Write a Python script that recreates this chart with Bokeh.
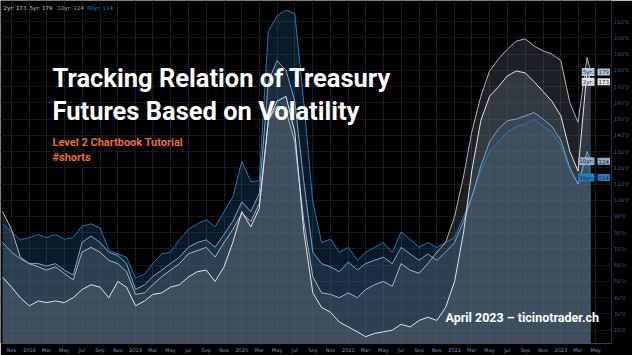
import pandas as pd
from bokeh.plotting import figure
from bokeh.models import Range1d, FixedTicker, Label, ColumnDataSource
from bokeh.embed import file_html
from bokeh.resources import INLINE

# ---------------- data ----------------
dates = list(pd.date_range("2017-10-01", periods=67, freq="MS")) + [pd.Timestamp("2023-04-14")]

y2 = [52.7, 46.5, 40, 35, 38, 37, 38, 37, 40, 45,
      48, 46.5, 40, 50, 46.5, 35, 38, 42, 43, 46.5,
      48, 52.7, 56, 57, 50, 59, 74, 93, 83.6, 95,
      149, 161, 164, 142, 80.5, 43, 34, 31, 25, 22,
      19, 16, 18, 19, 20, 23.6, 22, 26, 28, 26,
      34, 50, 80.5, 118, 149, 164, 170, 176.5, 179.6, 178.4,
      173, 167, 161, 152, 130, 118, 180, 173]
y5 = [93, 82, 65, 61, 59, 57, 59, 55, 51, 68,
      71, 68, 63, 61, 56, 42, 43, 48, 53, 57,
      61, 67, 69, 71, 65, 74, 82, 92, 87, 98,
      149, 158, 155, 136, 87, 53, 43, 42, 40, 43,
      40, 45, 48, 50, 47, 61, 57, 55, 61, 68,
      74, 90, 115, 142, 164, 179.6, 187, 193, 198, 199.4,
      195, 192, 190, 186, 160, 148, 188, 179]
y10 = [74, 68, 64, 61, 61, 59.5, 61, 57, 54, 74,
       78, 74, 68, 66, 61, 45, 48, 53, 57, 61,
       65, 71, 74, 75.6, 71, 79, 87, 99, 93, 104,
       173, 186, 180, 161, 111.5, 68, 61, 59, 56, 62,
       57, 61, 63, 65, 61, 71, 67, 63, 67, 63,
       68, 74, 87, 102, 121, 136, 144, 149, 150, 152,
       154, 150, 145.5, 137, 120, 110, 130, 124]
y30 = [85.5, 80.5, 75.6, 77, 79, 77, 79, 76, 77, 84,
       85.5, 83, 69.4, 67, 65, 52, 54.5, 61, 67, 68,
       75.6, 82, 85.5, 88, 83.6, 93, 102, 124, 111.5, 112,
       204, 213.6, 217, 215, 160, 99, 74, 76, 68, 71,
       63, 68, 71, 74, 68, 80.5, 76, 71, 74, 71,
       74, 77, 90, 102, 118, 130, 136, 142, 145.5, 147,
       150, 145.5, 142, 134, 118, 110, 127, 114]

names = ["2yr", "5yr", "10yr", "30yr"]
last_values = [173, 179, 124, 114]
y_ticks = list(range(10, 220, 10))
x_ticks = list(pd.date_range("2017-11-01", "2023-07-01", freq="2MS"))

# ---------------- figure ----------------
W, H = 632, 355
FH = 341  # expected frame height
p = figure(width=W, height=H, x_axis_type="datetime", y_axis_location="right",
           output_backend="svg", toolbar_location=None,
           x_range=Range1d(pd.Timestamp("2017-09-24"), pd.Timestamp("2023-06-24")),
           y_range=Range1d(11.8, 223),
           min_border_left=0, min_border_right=0, min_border_top=0, min_border_bottom=0,
           background_fill_color="#000000", border_fill_color="#000000",
           outline_line_color=None)

src = ColumnDataSource(dict(x=dates, y2=y2, y5=y5, y10=y10, y30=y30))

fills = {"y30": "#1e5a87", "y10": "#3c5f82", "y5": "#5f6973", "y2": "#647382"}
lines = {"y30": "#2477b5", "y10": "#7ea3c4", "y5": "#aeb2b6", "y2": "#e2e4e6"}
order = ["y30", "y10", "y5", "y2"]
for k in order:
    p.varea(x="x", y1=0, y2=k, source=src, fill_color=fills[k], fill_alpha=0.3)
for k in order:
    p.line(x="x", y=k, source=src, line_color=lines[k], line_width=1)

# grid
p.xgrid.ticker = FixedTicker(ticks=[t.value / 1e6 for t in x_ticks])
p.xgrid.grid_line_color = "#191d21"
p.ygrid.ticker = FixedTicker(ticks=y_ticks)
p.ygrid.grid_line_color = "#14181c"

# y axis (right)
ya = p.yaxis[0]
ya.ticker = FixedTicker(ticks=y_ticks)
ya.major_label_overrides = {v: f"{v}'0" for v in y_ticks}
ya.major_label_text_color = "#3a5f82"
ya.major_label_text_font_size = "5.5px"
ya.major_label_text_font = "DejaVu Sans"
ya.major_tick_out = 0
ya.minor_tick_out = 0
ya.major_tick_line_color = None
ya.minor_tick_line_color = None
ya.axis_line_color = "#1b3349"
ya.major_label_standoff = 2
ya.axis_label = None

# x axis (bottom)
xa = p.xaxis[0]
xt = [t.value / 1e6 for t in x_ticks]
xa.ticker = FixedTicker(ticks=xt)
xa.major_label_overrides = {v: (t.strftime("%Y") if t.month == 1 else t.strftime("%b"))
                            for v, t in zip(xt, x_ticks)}
xa.major_label_text_color = "#6f98c2"
xa.major_label_text_font_size = "5px"
xa.major_label_text_font = "DejaVu Sans"
xa.major_tick_out = 0
xa.minor_tick_out = 0
xa.major_tick_line_color = None
xa.minor_tick_line_color = None
xa.axis_line_color = None
xa.major_label_standoff = 3
xa.axis_label = None


def sy(page_y):
    return FH - page_y


# titles
title_kw = dict(x_units="screen", y_units="screen", text_font="Roboto", text_font_style="bold")
p.add_layout(Label(x=52, y=sy(90), text="Tracking Relation of Treasury", text_color="white",
                   text_font_size="25.5px", **title_kw))
p.add_layout(Label(x=52, y=sy(123), text="Futures Based on Volatility", text_color="white",
                   text_font_size="25.5px", **title_kw))
p.add_layout(Label(x=52, y=sy(146), text="Level 2 Chartbook Tutorial", text_color="#ef6f2a",
                   text_font_size="11px", **title_kw))
p.add_layout(Label(x=52, y=sy(161), text="#shorts", text_color="#ef6f2a",
                   text_font_size="11px", **title_kw))
p.add_layout(Label(x=445, y=sy(322), text="April 2023 \u2013 ticinotrader.ch", text_color="white",
                   text_font_size="12.5px", **title_kw))

# top-left legend
leg_colors = ["#c9cdd0", "#c0cad4", "#8fa7bf", "#2287cc"]
leg_x = [3, 29, 57, 86]
for n, v, c, lx in zip(names, last_values, leg_colors, leg_x):
    p.add_layout(Label(x=lx, y=sy(2), x_units="screen", y_units="screen",
                       text=f"{n}: {v}", text_color=c, text_baseline="top",
                       text_font="DejaVu Sans", text_font_size="5.5px"))

# right-side value tags
tag_bg = {"2yr": "#e2e5e8", "5yr": "#b4c6d8", "10yr": "#8eaccb", "30yr": "#1f7fc4"}
for n, v in zip(names, last_values):
    p.add_layout(Label(x=594, y=v, x_units="screen", y_units="data",
                       text=f"{n}:", text_color="#1a2a3a", text_baseline="middle", text_align="right",
                       text_font="DejaVu Sans", text_font_size="5.5px",
                       background_fill_color=tag_bg[n], padding=1))
    p.add_layout(Label(x=597, y=v, x_units="screen", y_units="data",
                       text=f"{v}", text_color="#1a2a3a", text_baseline="middle",
                       text_font="DejaVu Sans", text_font_size="5.5px",
                       background_fill_color=tag_bg[n], padding=1))

html = file_html(p, INLINE)
html = html.replace("<body>", '<body style="background-color:#000000;">', 1)
open("out.html", "w").write(html)
